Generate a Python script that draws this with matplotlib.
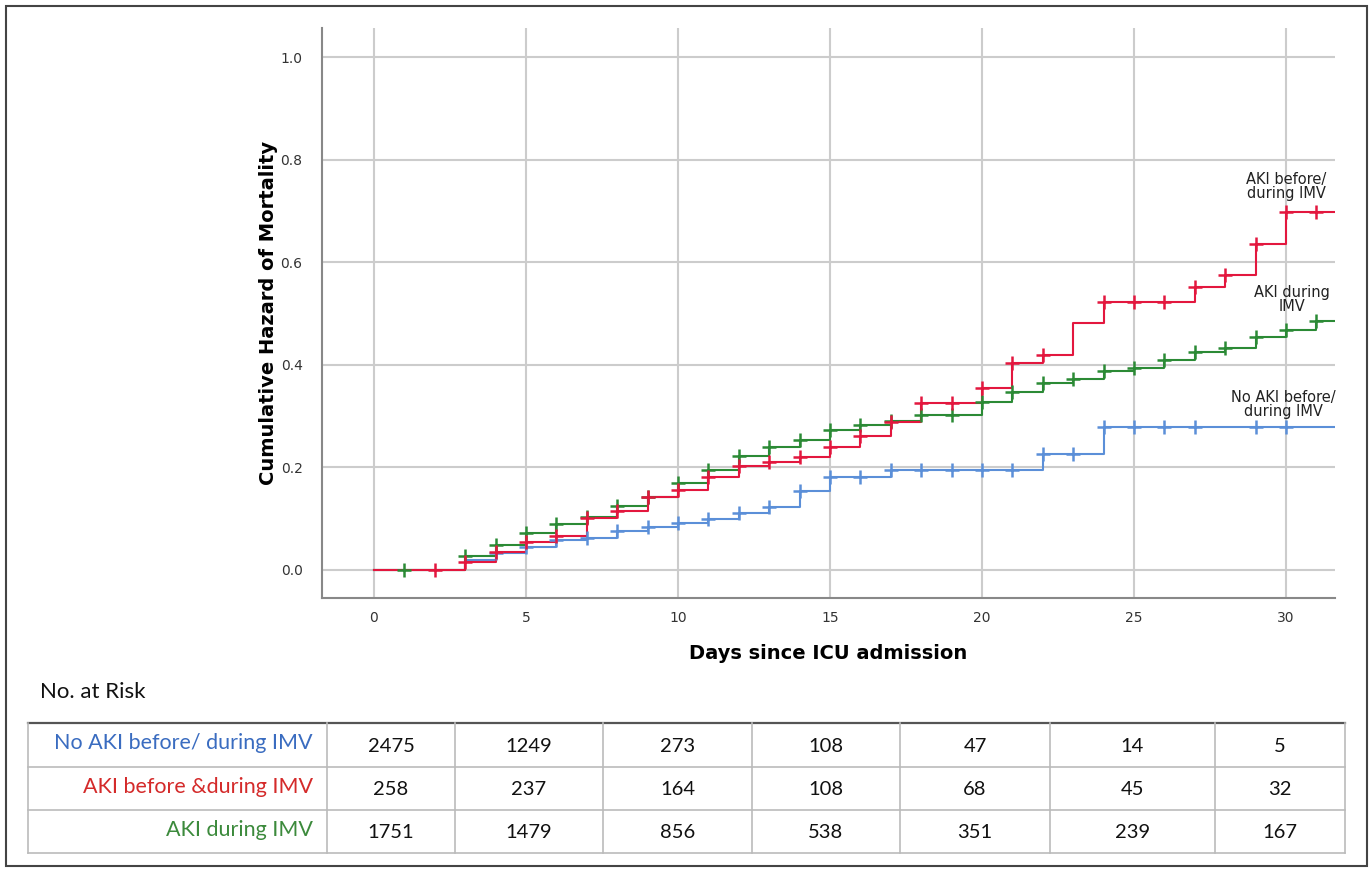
import numpy as np
import matplotlib.pyplot as plt
from matplotlib.patches import Rectangle
from matplotlib.lines import Line2D

# Cumulative hazard by day (value from that day onward)
days = list(range(0, 32))
no_aki = [0, 0, 0, 0.020, 0.032, 0.044, 0.058, 0.062, 0.075, 0.084, 0.091, 0.099,
          0.110, 0.122, 0.153, 0.182, 0.182, 0.195, 0.195, 0.195, 0.195, 0.195,
          0.225, 0.225, 0.279, 0.279, 0.279, 0.279, 0.279, 0.279, 0.279, 0.279]
aki_before = [0, 0, 0, 0.016, 0.035, 0.054, 0.066, 0.102, 0.114, 0.143, 0.156, 0.182,
              0.203, 0.211, 0.221, 0.240, 0.262, 0.288, 0.326, 0.326, 0.354, 0.404,
              0.420, 0.481, 0.523, 0.523, 0.523, 0.551, 0.576, 0.635, 0.699, 0.699]
aki_during = [0, 0, 0, 0.026, 0.049, 0.072, 0.090, 0.104, 0.125, 0.143, 0.170, 0.194,
              0.222, 0.240, 0.253, 0.273, 0.283, 0.290, 0.302, 0.303, 0.328, 0.346,
              0.364, 0.372, 0.387, 0.393, 0.409, 0.424, 0.432, 0.455, 0.468, 0.486]

# censoring marks (days)
no_aki_cens = list(range(4, 28)) + [29, 30]
aki_before_cens = [2] + list(range(3, 23)) + list(range(24, 32))
aki_during_cens = [1] + list(range(3, 32))

# No. at risk table
table_groups = ["No AKI before/ during IMV", "AKI before &during IMV", "AKI during IMV"]
risk_no_aki = [2475, 1249, 273, 108, 47, 14, 5]
risk_before = [258, 237, 164, 108, 68, 45, 32]
risk_during = [1751, 1479, 856, 538, 351, 239, 167]

c_blue = "#5b8fd8"
c_red = "#e3173e"
c_green = "#2b8a35"

fig = plt.figure(figsize=(13.72, 8.72), dpi=100)
fig.patches.append(Rectangle((6 / 1372, 6 / 872), 1361 / 1372, 860 / 872,
                             transform=fig.transFigure, fill=False,
                             edgecolor="#444444", lw=1.5))

ax = fig.add_axes([0.2347, 0.3142, 0.7383, 0.6537])
ax.set_xlim(-1.71, 31.61)
ax.set_ylim(-0.055, 1.057)
xmax = ax.get_xlim()[1]

series = [(no_aki, no_aki_cens, c_blue),
          (aki_during, aki_during_cens, c_green),
          (aki_before, aki_before_cens, c_red)]
for vals, cens, col in series:
    ax.plot(days + [xmax], vals + [vals[-1]], drawstyle="steps-post",
            color=col, lw=1.5, zorder=3)
    ax.plot(cens, [vals[d] for d in cens], linestyle="none", marker="+",
            markersize=10, mew=1.8, color=col, zorder=4)

ax.set_xticks(range(0, 31, 5))
ax.set_yticks([0.0, 0.2, 0.4, 0.6, 0.8, 1.0])
ax.set_yticklabels(["0.0", "0.2", "0.4", "0.6", "0.8", "1.0"])
ax.grid(True, color="#cccccc", lw=1.5)
ax.set_axisbelow(True)
ax.tick_params(length=0, labelsize=10, labelcolor="#333333")
ax.tick_params(axis="y", pad=14)
ax.tick_params(axis="x", pad=9)
for s in ["top", "right"]:
    ax.spines[s].set_visible(False)
for s in ["left", "bottom"]:
    ax.spines[s].set_color("#888888")
    ax.spines[s].set_linewidth(1.5)

ax.set_ylabel("Cumulative Hazard of Mortality", fontsize=14, fontweight="bold", labelpad=2)
ax.set_xlabel("Days since ICU admission", fontsize=14, fontweight="bold", labelpad=14)

ax.text(30.0, 0.72, "AKI before/\nduring IMV", ha="center", va="bottom",
        fontsize=10.5, linespacing=0.9, color="#222222")
ax.text(30.2, 0.50, "AKI during\nIMV", ha="center", va="bottom",
        fontsize=10.5, linespacing=0.9, color="#222222")
ax.text(29.9, 0.295, "No AKI before/\nduring IMV", ha="center", va="bottom",
        fontsize=10.5, linespacing=0.9, color="#222222")

# ---- No. at risk table ----
fig.text(40 / 1372, 1 - 692 / 872, "No. at Risk", fontsize=16, family="Lato",
         va="center", ha="left", color="#111111")

tx = fig.add_axes([0, 0, 1, 1], zorder=-1)
tx.set_xlim(0, 1372)
tx.set_ylim(872, 0)
tx.axis("off")

left, right = 28, 1345
col_edges = [left, 327, 455, 603, 752, 900, 1050, 1215, right]
row_edges = [723, 767, 810, 853]

tx.add_line(Line2D([left, right], [row_edges[0]] * 2, color="#555555", lw=1.6))
for y in row_edges[1:]:
    tx.add_line(Line2D([left, right], [y, y], color="#bbbbbb", lw=1.2))
for x in col_edges:
    tx.add_line(Line2D([x, x], [row_edges[0], row_edges[-1]], color="#bbbbbb", lw=1.2))

label_cols = ["#3a6cc0", "#d42a2a", "#3c8a3c"]
rows = [risk_no_aki, risk_before, risk_during]
for i, (name, vals) in enumerate(zip(table_groups, rows)):
    yc = (row_edges[i] + row_edges[i + 1]) / 2
    tx.text(col_edges[1] - 14, yc - 2, name, ha="right", va="center",
            fontsize=15.5, family="Lato", color=label_cols[i])
    for j, v in enumerate(vals):
        xc = (col_edges[j + 1] + col_edges[j + 2]) / 2
        tx.text(xc, yc + 1, str(v), ha="center", va="center",
                fontsize=14.5, family="Lato", color="#111111")

fig.savefig("out.png", dpi=100)
